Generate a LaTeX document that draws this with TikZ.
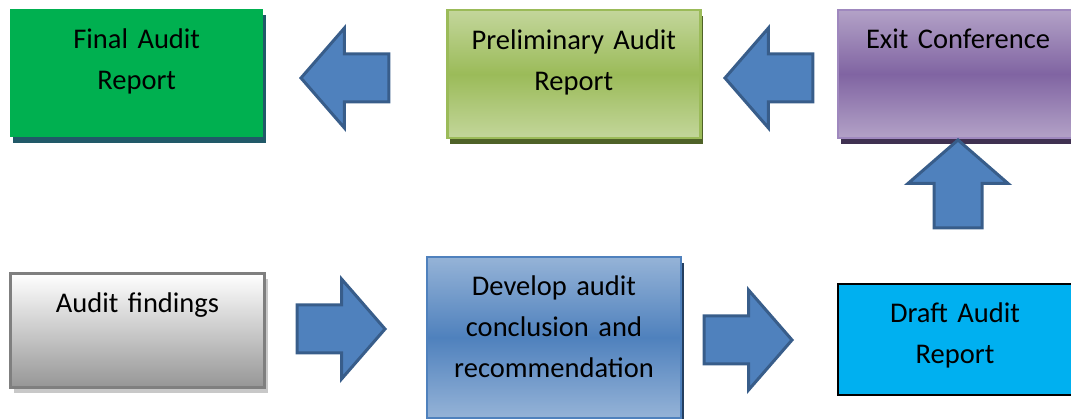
\documentclass[tikz,border=0pt]{standalone}
\usepackage{fontspec}
\setmainfont{Carlito}
\usetikzlibrary{shapes.arrows,shadows}

\definecolor{finalgreen}{HTML}{00B050}
\definecolor{finalshadow}{HTML}{215968}
\definecolor{prelimlight}{HTML}{C3D69B}
\definecolor{prelimmid}{HTML}{9BBB59}
\definecolor{prelimshadow}{HTML}{4F6228}
\definecolor{exitlight}{HTML}{B3A2C7}
\definecolor{exitmid}{HTML}{8064A2}
\definecolor{exitedge}{HTML}{9F88BE}
\definecolor{exitshadow}{HTML}{3F3151}
\definecolor{findgray}{HTML}{969696}
\definecolor{findedge}{HTML}{7F7F7F}
\definecolor{findshadow}{HTML}{C8C8C8}
\definecolor{devlight}{HTML}{95B3D7}
\definecolor{devmid}{HTML}{4F81BD}
\definecolor{devshadow}{HTML}{243F60}
\definecolor{draftblue}{HTML}{00B0F0}
\definecolor{arrowblue}{HTML}{4F81BD}
\definecolor{arrowedge}{HTML}{385D8A}

\begin{document}
\begin{tikzpicture}[x=1pt,y=-1pt,
        stage/.style={anchor=north west, inner sep=0pt, align=center,
                      font=\fontsize{28.5}{41}\selectfont, text height=39pt},
        bigarrow/.style={single arrow, draw=arrowedge, fill=arrowblue, line width=3pt,
                         anchor=tip, inner xsep=0pt, inner ysep=22.5pt, minimum height=88pt,
                         single arrow head extend=26pt, single arrow tip angle=98}]
        \useasboundingbox (0,0) rectangle (1071,419);

        % top row
        \node[stage, text width=253pt, minimum height=128pt, text depth=89pt,
              fill=finalgreen,
              drop shadow={shadow xshift=3pt, shadow yshift=-6pt, fill=finalshadow, opacity=1}]
              (final) at (10,9) {Final Audit\\Report};

        \node[stage, text width=253pt, minimum height=128pt, text depth=89pt,
              draw=prelimmid, line width=2.5pt,
              top color=prelimlight, bottom color=prelimlight, middle color=prelimmid,
              drop shadow={shadow xshift=3pt, shadow yshift=-6pt, fill=prelimshadow, opacity=1}]
              (prelim) at (446,9) {Preliminary Audit\\Report};

        \node[stage, text width=240pt, minimum height=128pt, text depth=89pt,
              draw=exitedge, line width=2pt,
              top color=exitlight, bottom color=exitlight, middle color=exitmid,
              drop shadow={shadow xshift=3pt, shadow yshift=-6pt, fill=exitshadow, opacity=1}]
              (exit) at (837,9) {Exit Conference};

        % bottom row
        \node[stage, text width=254pt, minimum height=114pt, text depth=75pt,
              draw=findedge, line width=3pt,
              top color=white, bottom color=findgray,
              drop shadow={shadow xshift=3pt, shadow yshift=-6pt, fill=findshadow, opacity=1}]
              (findings) at (9,272) {Audit findings};

        \node[stage, text width=254pt, minimum height=161pt, text depth=122pt,
              draw=devmid, line width=2pt,
              top color=devlight, bottom color=devlight, middle color=devmid,
              drop shadow={shadow xshift=3pt, shadow yshift=-6pt, fill=devshadow, opacity=1}]
              (develop) at (426,256) {Develop audit\\conclusion and\\recommendation};

        \node[stage, text width=234pt, minimum height=111pt, text depth=72pt,
              draw=black, fill=draftblue, line width=2pt]
              (draft) at (837,283) {Draft Audit\\Report};

        % block arrows
        \node[bigarrow, shape border rotate=180] (a1) at (299,78) {};
        \node[bigarrow, shape border rotate=180] (a2) at (723,78) {};
        \node[bigarrow, shape border rotate=90, inner xsep=22.5pt, inner ysep=0pt] (a3) at (958,138) {};
        \node[bigarrow] (a4) at (387,329) {};
        \node[bigarrow] (a5) at (794,340) {};
\end{tikzpicture}
\end{document}
